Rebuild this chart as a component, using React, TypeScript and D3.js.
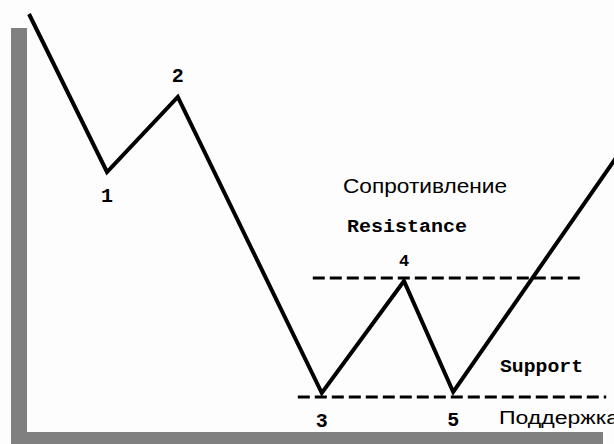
import React from "react";
import * as d3 from "d3";

// Price path pivots (time units, price units)
const pivotTimes = [0, 13, 24.8, 48.8, 62.5, 70.7, 98.5];
const pivotPrices = [107.5, 68, 86.75, 12.75, 40.75, 13, 73];
const pivotLabels = ["", "1", "2", "3", "4", "5", ""];
const labelSide = [0, 1, -1, 1, -1, 1, 0]; // 1 = below, -1 = above

// Horizontal levels
const levelNames = ["Resistance", "Support"];
const levelNamesRu = ["Сопротивление", "Поддержка"];
const levelPrices = [41.5, 11.75];
const levelStarts = [47.3, 44.8];
const levelEnds = [92.3, 96.2];

const W = 614;
const H = 444;

export default function App() {
  const x = d3.scaleLinear().domain([0, 100]).range([29, 629]);
  const y = d3.scaleLinear().domain([0, 110]).range([444, 4]);

  const pts: [number, number][] = pivotTimes.map((t, i) => [x(t), y(pivotPrices[i])]);
  const line = d3.line<[number, number]>().x((d) => d[0]).y((d) => d[1]);

  const mono = "'Liberation Mono', 'DejaVu Sans Mono', monospace";
  const sans = "'Liberation Sans', Arial, sans-serif";

  const resY = y(levelPrices[0]);
  const supY = y(levelPrices[1]);

  return (
    <svg
      width={W}
      height={H}
      style={{ position: "fixed", left: 0, top: 0, background: "#fdfdfd" }}
    >
      <rect x={0} y={0} width={W} height={H} fill="#fdfdfd" />
      {/* gray frame shadow */}
      <rect x={11} y={28} width={16} height={H - 28} fill="#808080" />
      <rect x={11} y={432} width={592} height={12} fill="#808080" />

      {/* levels */}
      {levelNames.map((n, i) => (
        <line
          key={n}
          x1={x(levelStarts[i])}
          x2={x(levelEnds[i])}
          y1={y(levelPrices[i])}
          y2={y(levelPrices[i])}
          stroke="#000"
          strokeWidth={3}
          strokeDasharray="12 5"
        />
      ))}

      {/* price path */}
      <path d={line(pts) || ""} fill="none" stroke="#000" strokeWidth={4} strokeLinejoin="miter" />

      {/* pivot labels */}
      {pts.map((p, i) =>
        pivotLabels[i] ? (
          <text
            key={i}
            x={p[0]}
            y={labelSide[i] > 0 ? p[1] + (i === 1 ? 30 : 34) : p[1] - 15}
            textAnchor="middle"
            fontFamily={mono}
            fontWeight="bold"
            fontSize={i === 4 ? 17 : 20}
            fill="#000"
          >
            {pivotLabels[i]}
          </text>
        ) : null
      )}

      {/* annotations */}
      <text x={343} y={resY - 85} fontFamily={sans} fontSize={21} textLength={164} lengthAdjust="spacingAndGlyphs" fill="#000">
        {levelNamesRu[0]}
      </text>
      <text x={347} y={resY - 46} fontFamily={mono} fontWeight="bold" fontSize={19} textLength={120} lengthAdjust="spacingAndGlyphs" fill="#000">
        {levelNames[0]}
      </text>
      <text x={500} y={supY - 25} fontFamily={mono} fontWeight="bold" fontSize={19} textLength={83} lengthAdjust="spacingAndGlyphs" fill="#000">
        {levelNames[1]}
      </text>
      <text x={499} y={supY + 27} fontFamily={sans} fontSize={18} textLength={120} lengthAdjust="spacingAndGlyphs" fill="#000">
        {levelNamesRu[1]}
      </text>
    </svg>
  );
}
